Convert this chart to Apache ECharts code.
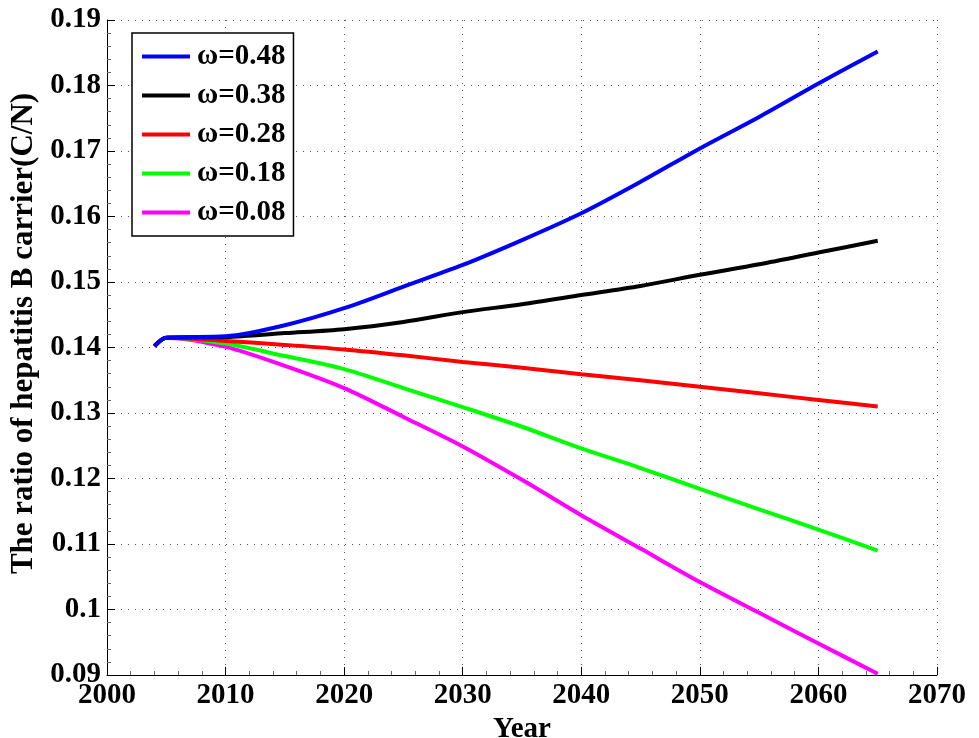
<!DOCTYPE html>
<html>
<head>
<meta charset="utf-8">
<script src="https://cdn.jsdelivr.net/npm/echarts@6/dist/echarts.min.js"></script>
<style>
  html, body { margin: 0; padding: 0; background: #fff; }
  #chart { width: 979px; height: 738px; }
</style>
</head>
<body>
<div id="chart"></div>
<script>
// Carrier ratio C/N over time for several values of omega
var years = [2004, 2005, 2010, 2015, 2020, 2025, 2030, 2035, 2040, 2045, 2050, 2055, 2060, 2065];
var w048 = [0.1402, 0.1415, 0.1417, 0.1434, 0.1460, 0.1493, 0.1526, 0.1564, 0.1605, 0.1653, 0.1704, 0.1752, 0.1803, 0.1852];
var w038 = [0.1402, 0.1415, 0.1416, 0.1422, 0.1428, 0.1439, 0.1454, 0.1466, 0.1480, 0.1494, 0.1511, 0.1527, 0.1545, 0.1563];
var w028 = [0.1402, 0.1415, 0.1410, 0.1404, 0.1397, 0.1388, 0.1378, 0.1369, 0.1359, 0.1350, 0.1340, 0.1330, 0.1320, 0.1310];
var w018 = [0.1402, 0.1415, 0.1406, 0.1387, 0.1367, 0.1338, 0.1309, 0.1279, 0.1246, 0.1216, 0.1184, 0.1153, 0.1122, 0.1090];
var w008 = [0.1402, 0.1415, 0.1401, 0.1372, 0.1338, 0.1294, 0.1249, 0.1198, 0.1144, 0.1093, 0.1042, 0.0995, 0.0948, 0.0902];

var seriesNames = ['ω=0.48', 'ω=0.38', 'ω=0.28', 'ω=0.18', 'ω=0.08'];
var seriesData = [w048, w038, w028, w018, w008];
var seriesColors = ['#0000ff', '#000000', '#ff0000', '#00ff00', '#ff00ff'];

var FONT = '"Liberation Serif", "Times New Roman", serif';

function pairs(vals) {
  return years.map(function (y, i) { return [y, vals[i]]; });
}

var chart = echarts.init(document.getElementById('chart'), null, { renderer: 'canvas' });

var gridLine = { show: true, lineStyle: { color: '#555', width: 1, type: [1, 6] } };

chart.setOption({
  animation: false,
  backgroundColor: '#fff',
  grid: { left: 107, right: 42, top: 20, bottom: 63, containLabel: false, outerBoundsMode: 'none' },
  legend: {
    orient: 'vertical',
    left: 132,
    top: 33,
    padding: [9, 8, 9, 10],
    itemGap: 10,
    itemWidth: 48,
    itemHeight: 4,
    icon: 'rect',
    borderColor: '#000',
    borderWidth: 1.5,
    backgroundColor: '#fff',
    textStyle: { fontFamily: FONT, fontWeight: 'bold', fontSize: 29, lineHeight: 29, color: '#000', padding: [0, 0, 0, 2] },
    data: seriesNames
  },
  xAxis: {
    type: 'value',
    min: 2000,
    max: 2070,
    interval: 10,
    name: 'Year',
    nameLocation: 'middle',
    nameGap: 36,
    nameTextStyle: { fontFamily: FONT, fontWeight: 'bold', fontSize: 29, color: '#000' },
    axisLine: { show: true, onZero: false, lineStyle: { color: '#000', width: 1 } },
    axisTick: { show: true, inside: true, length: 8, lineStyle: { color: '#000' } },
    minorTick: { show: true, splitNumber: 5, length: 4, lineStyle: { color: '#666' } },
    axisLabel: {
      fontFamily: FONT, fontWeight: 'bold', fontSize: 29, color: '#000', margin: 6,
      formatter: function (v) { return String(v); }
    },
    splitLine: gridLine
  },
  yAxis: {
    type: 'value',
    min: 0.09,
    max: 0.19,
    interval: 0.01,
    name: 'The ratio of hepatitis B carrier(C/N)',
    nameLocation: 'middle',
    nameGap: 64,
    nameRotate: 90,
    nameTextStyle: { fontFamily: FONT, fontWeight: 'bold', fontSize: 31, color: '#000', padding: [0, 0, 0, 28] },
    axisLine: { show: true, onZero: false, lineStyle: { color: '#000', width: 1 } },
    axisTick: { show: true, inside: true, length: 8, lineStyle: { color: '#000' } },
    minorTick: { show: true, splitNumber: 5, length: 4, lineStyle: { color: '#666' } },
    axisLabel: {
      fontFamily: FONT, fontWeight: 'bold', fontSize: 29, color: '#000', margin: 6,
      formatter: function (v) { return String(parseFloat(v.toFixed(2))); }
    },
    splitLine: gridLine
  },
  series: seriesNames.map(function (name, i) {
    return {
      name: name,
      type: 'line',
      data: pairs(seriesData[i]),
      showSymbol: false,
      symbol: 'none',
      smooth: 0.3,
      lineStyle: { color: seriesColors[i], width: 4 },
      itemStyle: { color: seriesColors[i] },
      z: 10 - i
    };
  })
});
</script>
</body>
</html>
